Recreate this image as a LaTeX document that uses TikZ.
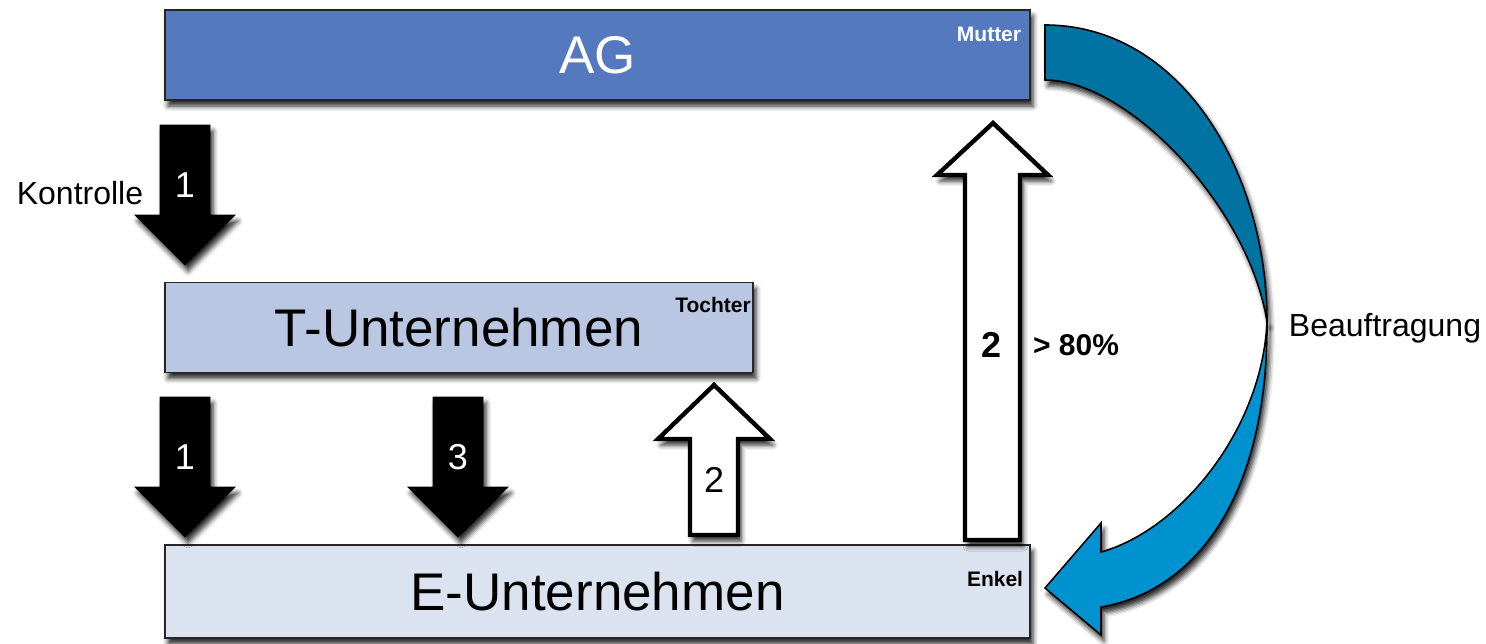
\documentclass[tikz,border=0pt]{standalone}
\usepackage{fontspec}
\setmainfont{Liberation Sans}
\usetikzlibrary{shadows.blur}

\definecolor{agblue}{RGB}{84,121,190}
\definecolor{tblue}{RGB}{185,199,227}
\definecolor{eblue}{RGB}{220,227,240}
\definecolor{darkteal}{RGB}{0,115,163}
\definecolor{lightteal}{RGB}{0,146,206}

\tikzset{
  softshadow/.style={blur shadow={shadow xshift=1.5pt,shadow yshift=-3pt,shadow blur radius=2.5pt,shadow opacity=85}},
  firm/.style={draw=black!85,line width=0.8pt,softshadow,minimum height=45pt,inner sep=0pt,
    font=\fontsize{26.5}{30}\selectfont},
  tag/.style={font=\fontsize{10.5}{12}\selectfont\bfseries},
  solidarrow/.style={fill=black,softshadow},
  hollowarrow/.style={draw=black,fill=white,line width=2.2pt,line join=miter,softshadow},
  blueband/.style={draw=black,line width=0.8pt,softshadow},
  numtext/.style={font=\fontsize{18}{20}\selectfont},
  sidetext/.style={font=\fontsize{16}{18}\selectfont}
}

\begin{document}
\begin{tikzpicture}[x=0.5pt,y=-0.5pt]
\useasboundingbox (0,0) rectangle (1486,643);

% Gesellschaften
\node[firm,fill=agblue,text=white,minimum width=432.5pt] (ag) at (597.5,55) {AG};
\node[firm,fill=tblue,minimum width=294pt] (tu) at (459,327.5) {T-Unternehmen};
\node[firm,fill=eblue,minimum width=432.5pt,minimum height=46.5pt] (eu) at (597.5,591.5) {E-Unternehmen};
\node[tag,text=white] (mutter) at (989,34) {Mutter};
\node[tag] (tochter) at (713,305) {Tochter};
\node[tag] (enkel) at (995,579) {Enkel};

% Kontrolle nach unten
\foreach \x/\t/\n [count=\i] in {185/125/1, 185/397/1, 458/397/3}
  \draw[solidarrow,shift={(\x,\t)}] (-25,0) -- (25,0) -- (25,90) -- (50,90) -- (0,140)
    -- (-50,90) -- (-25,90) -- cycle node[numtext,text=white] (num\i) at (0,60) {\n};
\node[sidetext] (kontrolle) at (80,193) {Kontrolle};

% Beteiligung nach oben
\draw[hollowarrow] (690,535) -- (738,535) -- (738,439) -- (770,439) -- (714,385)
  -- (658,439) -- (690,439) -- cycle;
\node[numtext] (zwei) at (714,480) {2};
\draw[hollowarrow] (965,540) -- (1020,540) -- (1020,175) -- (1048,175) -- (993,123)
  -- (937,175) -- (965,175) -- cycle;
\node[numtext,font=\fontsize{18}{20}\selectfont\bfseries] (zweib) at (991,345) {2};
\node[font=\fontsize{15}{17}\selectfont\bfseries] (quote) at (1076,345) {> 80\%};

% Beauftragung
\draw[blueband,fill=lightteal] (1267,322) .. controls (1268,490) and (1200,590) .. (1101,607)
  -- (1101,635) -- (1045,588) -- (1101,523) -- (1101,552)
  .. controls (1180,530) and (1262,430) .. (1267,322) -- cycle;
\draw[blueband,fill=darkteal] (1045,25) .. controls (1180,25) and (1267,170) .. (1267,322)
  .. controls (1250,210) and (1130,80) .. (1045,80) -- cycle;
\node[sidetext] (auftrag) at (1385,328) {Beauftragung};
\end{tikzpicture}
\end{document}
